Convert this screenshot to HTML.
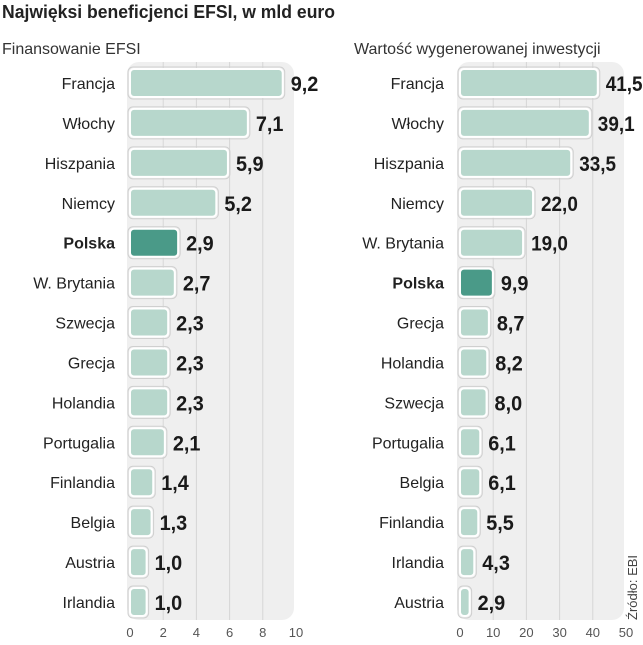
<!DOCTYPE html>
<html><head><meta charset="utf-8"><style>
body{margin:0;background:#fff;width:643px;height:640px;overflow:hidden;font-family:"Liberation Sans",sans-serif}
svg text{font-family:"Liberation Sans",sans-serif}
</style></head><body>
<svg width="643" height="640">
<text x="2" y="18" font-size="18" font-weight="bold" fill="#222" textLength="333" lengthAdjust="spacingAndGlyphs">Najwięksi beneficjenci EFSI, w mld euro</text>
<text x="2" y="54" font-size="16" fill="#333">Finansowanie EFSI</text>
<text x="354" y="54" font-size="16" fill="#333">Wartość wygenerowanej inwestycji</text>
<text transform="translate(637,620) rotate(-90)" font-size="13" fill="#444">Źródło: EBI</text>
<g id="left"></g><g id="right"></g>
</svg>
<script>
const leftCats=["Francja","Włochy","Hiszpania","Niemcy","Polska","W. Brytania","Szwecja","Grecja","Holandia","Portugalia","Finlandia","Belgia","Austria","Irlandia"];
const leftVals=[9.2,7.1,5.9,5.2,2.9,2.7,2.3,2.3,2.3,2.1,1.4,1.3,1.0,1.0];
const leftTicks=[0,2,4,6,8,10];
const rightCats=["Francja","Włochy","Hiszpania","Niemcy","W. Brytania","Polska","Grecja","Holandia","Szwecja","Portugalia","Belgia","Finlandia","Irlandia","Austria"];
const rightVals=[41.5,39.1,33.5,22.0,19.0,9.9,8.7,8.2,8.0,6.1,6.1,5.5,4.3,2.9];
const rightTicks=[0,10,20,30,40,50];
const NS="http://www.w3.org/2000/svg";
function mk(p,t,a){const e=document.createElementNS(NS,t);for(const k in a)e.setAttribute(k,a[k]);p.appendChild(e);return e;}
function draw(gid,cats,vals,ticks,x0,x1,labelX,prefix){
  const g=document.getElementById(gid);
  const max=ticks[ticks.length-1];
  const sx=v=>x0+(v/max)*(x1-x0);
  const y0=83,step=(602-83)/(cats.length-1);
  const bg=mk(g,'rect',{x:x0-3,y:62,width:x1-x0+1,height:558,rx:12,fill:'#efefef'});
  
  
  ticks.forEach((t,i)=>{
    if(i>0&&i<ticks.length-1){
      const l=mk(g,'line',{x1:sx(t),x2:sx(t),y1:62,y2:620,stroke:'#d6d6d6','stroke-width':1});
      
      
    }
    const tx=mk(g,'text',{x:sx(t),y:637,'font-size':13,fill:'#555','text-anchor':'middle'});
    tx.textContent=t;
    
    
  });
  cats.forEach((c,i)=>{
    const y=y0+i*step;const hl=c==="Polska";
    const lb=mk(g,'text',{x:labelX,y:y+6,'font-size':16,fill:'#222','text-anchor':'end','font-weight':hl?'bold':'normal'});
    lb.textContent=c;
    
    
    const w=Math.max(sx(vals[i])-x0,4);
    const r=mk(g,'rect',{x:x0,y:y-14,width:w,height:28,rx:4,fill:hl?'#4a9a88':'#b7d7cc',stroke:'#fff','stroke-width':2});
    
    
    const o=mk(g,'rect',{x:x0-2,y:y-16,width:w+4,height:32,rx:5,fill:'none',stroke:'#cfcfcf','stroke-width':1});
    
    
    const s=vals[i].toFixed(1).replace('.',',');
    const v=mk(g,'text',{x:x0+w+8,y:y+8,'font-size':21,'font-weight':'bold',fill:'#1a1a1a',textLength:s.length*9.2,lengthAdjust:'spacingAndGlyphs'});
    v.textContent=s;
    
    
  });
}
draw('left',leftCats,leftVals,leftTicks,130,296,115,'left');
draw('right',rightCats,rightVals,rightTicks,460,626,444,'right');
</script>
</body></html>
